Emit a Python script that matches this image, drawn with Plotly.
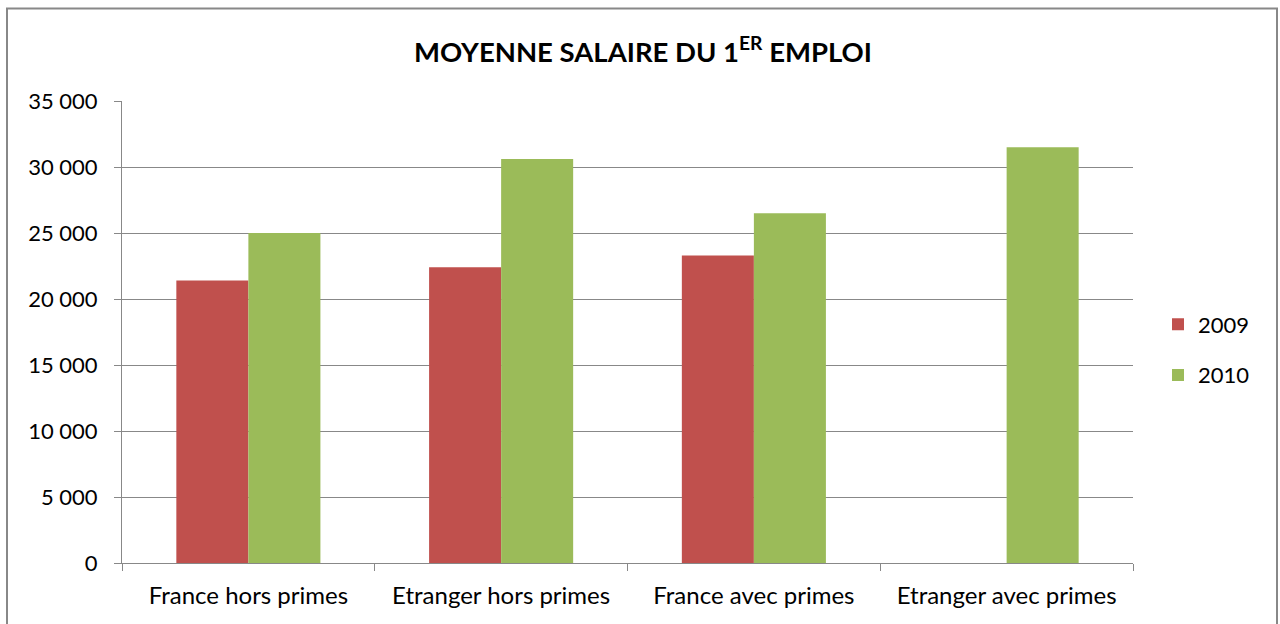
import plotly.graph_objects as go

categories = ["France hors primes", "Etranger hors primes", "France avec primes", "Etranger avec primes"]
values_2009 = [21400, 22400, 23300, None]
values_2010 = [25000, 30600, 26500, 31500]
y_ticks = [0, 5000, 10000, 15000, 20000, 25000, 30000, 35000]

W, H = 1280, 624
L, R, T, B = 122, 1133, 101, 563

fig = go.Figure()
fig.add_trace(go.Bar(name="2009", x=categories, y=values_2009, legendgroup="a",
                     marker=dict(color="#C0504D", line=dict(width=0))))
fig.add_trace(go.Bar(name="2010", x=categories, y=values_2010, legendgroup="b",
                     marker=dict(color="#9BBB59", line=dict(width=0))))

def px_x(p):
    return (p - L) / (R - L)

def px_y(p):
    return (B - p) / (B - T)

fig.add_shape(type="rect", xref="paper", yref="paper",
              x0=px_x(7), x1=px_x(1277), y0=px_y(640), y1=px_y(8.5),
              line=dict(color="#888888", width=2), fillcolor="rgba(0,0,0,0)", layer="below")

fig.update_layout(
    width=W, height=H,
    margin=dict(l=L, r=W - R, t=T, b=H - B, autoexpand=False),
    paper_bgcolor="white", plot_bgcolor="white",
    barmode="group", bargap=0.43, bargroupgap=0,
    separators=", ",
    font=dict(family="Lato, Open Sans, sans-serif", color="#000000", size=22),
    title=dict(text="<b>MOYENNE SALAIRE DU 1<sup>ER</sup> EMPLOI</b>", x=px_x(643), xref="paper",
               xanchor="center", y=1 - 52 / H, yanchor="middle", font=dict(size=27.5)),
    showlegend=True,
    legend=dict(x=px_x(1158), y=px_y(350), xanchor="left", yanchor="middle",
                font=dict(size=22), itemwidth=30, traceorder="grouped", tracegroupgap=19,
                bgcolor="rgba(0,0,0,0)"),
    xaxis=dict(type="category", showline=True, linecolor="#888888", linewidth=1,
               ticks="outside", tickson="boundaries", ticklen=7, tickcolor="#888888",
               showgrid=False, tickfont=dict(size=24), ticklabelstandoff=11),
    yaxis=dict(range=[0, 35000], tickvals=y_ticks, tickformat=",d", showline=True,
               linecolor="#888888", linewidth=1, ticks="outside", ticklen=7, tickcolor="#888888",
               showgrid=True, gridcolor="#888888", gridwidth=1, zeroline=False,
               tickfont=dict(size=22), ticklabelstandoff=12),
)

fig.write_html("out.html")
